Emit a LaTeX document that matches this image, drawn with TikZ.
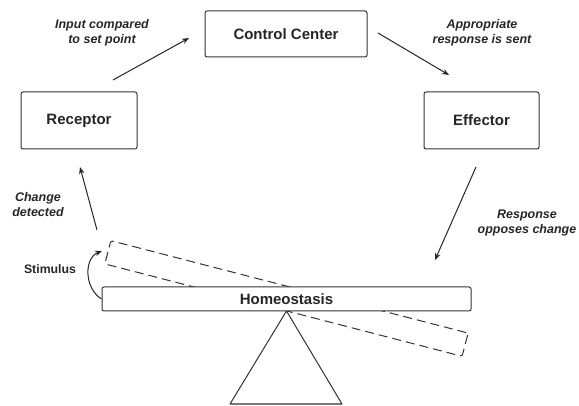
\documentclass[tikz,border=0pt]{standalone}
\usepackage{fontspec}
\setmainfont{Liberation Sans}
\usetikzlibrary{arrows.meta}

\begin{document}
\begin{tikzpicture}[x=1pt, y=-1pt, line width=1pt,
  box/.style={draw=black!80, rounded corners=2pt, fill=white, inner sep=0pt,
    text=black!85, font=\fontsize{15}{18}\selectfont\bfseries},
  note/.style={align=center, text=black!85, inner sep=0pt,
    font=\fontsize{12.5}{15}\selectfont\bfseries\itshape},
  flow/.style={draw=black!85, -{Stealth[length=7pt,width=5.5pt]}},
  tilted/.style={draw=black!80, dash pattern=on 9pt off 5pt, rounded corners=2pt,
    minimum width=369pt, minimum height=24pt, inner sep=0pt}]
\useasboundingbox (0,0) rectangle (579,406);

% feedback loop boxes
\node[box, minimum width=162pt, minimum height=46pt] (cc) at (286,34) {Control Center};
\node[box, minimum width=116pt, minimum height=57pt] (rec) at (79,120.5) {Receptor};
\node[box, minimum width=115pt, minimum height=57pt] (eff) at (481.5,120.5) {Effector};

% disturbed (tilted) position of the balance beam
\node[tilted, rotate=-14.5] (tilt) at (286.5,298.5) {};

% fulcrum
\coordinate (apex) at (286.5,311);
\coordinate (bl) at (230,404);
\coordinate (br) at (342,404);
\draw[draw=black!80, line join=round] (apex) -- (bl) -- (br) -- cycle;

% balance beam at set point
\node[box, minimum width=369pt, minimum height=24pt] (hb) at (286.5,299) {Homeostasis};

% connector ends
\coordinate (r1) at (113,80);
\coordinate (c1) at (189,38);
\coordinate (c2) at (378,33);
\coordinate (e1) at (449,75);
\coordinate (e2) at (476,167);
\coordinate (h1) at (435,260);
\coordinate (h2) at (97,230);
\coordinate (r2) at (80,167);
\coordinate (s2) at (102,251);

\draw[flow] (r1) -- (c1);
\draw[flow] (c2) -- (e1);
\draw[flow] (e2) -- (h1);
\draw[flow] (h2) -- (r2);
\draw[flow] (hb.west) .. controls (84,288) and (84,258) .. (s2);

% labels
\node[note] (l1) at (102,33) {Input compared\\to set point};
\node[note] (l2) at (482,32.5) {Appropriate\\response is sent};
\node[note] (l3) at (527,223) {Response\\opposes change};
\node[note] (l4) at (38,205) {Change\\detected};
\node[note, font=\fontsize{12.3}{15}\selectfont\bfseries] (l5) at (50,269) {Stimulus};
\end{tikzpicture}
\end{document}
